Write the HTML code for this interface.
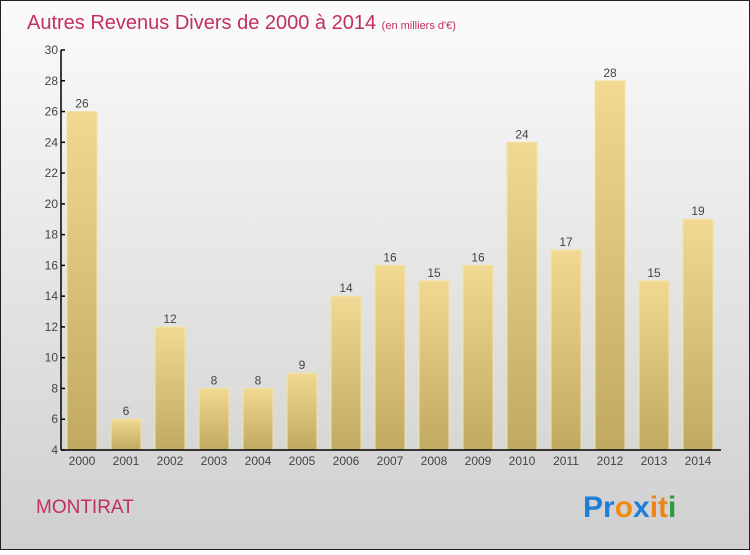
<!DOCTYPE html>
<html><head><meta charset="utf-8"><style>
html,body{margin:0;padding:0}
body{width:750px;height:550px;overflow:hidden;font-family:"Liberation Sans",sans-serif}
</style></head><body>
<svg id="chart" width="750" height="550" xmlns="http://www.w3.org/2000/svg">
<defs>
<linearGradient id="bg" x1="0" y1="0" x2="0" y2="1"><stop offset="0" stop-color="#fbfbfb"/><stop offset="1" stop-color="#cfcfcf"/></linearGradient>
<linearGradient id="bar" x1="0" y1="0" x2="0" y2="1"><stop offset="0" stop-color="#f2d993"/><stop offset="1" stop-color="#c0a963"/></linearGradient>
</defs>
<rect x="0.5" y="0.5" width="749" height="549" fill="url(#bg)" stroke="#222"/>
<text x="27" y="29" font-size="20" fill="#c0305f">Autres Revenus Divers de 2000 à 2014 <tspan font-size="11">(en milliers d'€)</tspan></text>
<g id="bars"></g>
<g id="axes"></g>
<text x="36" y="513" font-size="19" fill="#c0305f">MONTIRAT</text>
<text x="583" y="517" font-size="30" font-weight="bold"><tspan fill="#1e7fd8">Pr</tspan><tspan fill="#f08a10">o</tspan><tspan fill="#1e7fd8">x</tspan><tspan fill="#e8861a">it</tspan><tspan fill="#2a9a3a">i</tspan></text>
</svg>
<script>
const categories=["2000","2001","2002","2003","2004","2005","2006","2007","2008","2009","2010","2011","2012","2013","2014"];
const values=[26,6,12,8,8,9,14,16,15,16,24,17,28,15,19];
const yTicks=[4,6,8,10,12,14,16,18,20,22,24,26,28,30];
const NS="http://www.w3.org/2000/svg";
const y0=450,y1=50,vmin=4,vmax=30,xLeft=61,step=44,bw=30,firstCenter=82;
const yScale=v=>y0-(v-vmin)/(vmax-vmin)*(y0-y1);
const xScale=i=>firstCenter+i*step;
function mk(t,a){const e=document.createElementNS(NS,t);for(const k in a)e.setAttribute(k,a[k]);return e;}
const bars=document.getElementById('bars'),axes=document.getElementById('axes');
values.forEach((v,i)=>{
 const r=mk('rect',{x:xScale(i)-bw/2,y:yScale(v),width:bw,height:y0-yScale(v),fill:'url(#bar)',stroke:'#f3e3a6','stroke-width':1});
 
 
 bars.appendChild(r);
 const t=mk('text',{x:xScale(i),y:yScale(v)-4,'text-anchor':'middle','font-size':12,fill:'#444'});
 t.textContent=v;
 
 
 bars.appendChild(t);
 const c=mk('text',{x:xScale(i),y:y0+15,'text-anchor':'middle','font-size':12,fill:'#444'});
 c.textContent=categories[i];
 
 
 axes.appendChild(c);
});
const ya=mk('line',{x1:xLeft,y1:y1,x2:xLeft,y2:y0,stroke:'#000','stroke-width':1.5});


axes.appendChild(ya);
const xa=mk('line',{x1:xLeft,y1:y0,x2:721,y2:y0,stroke:'#000','stroke-width':1.5});


axes.appendChild(xa);
yTicks.forEach(v=>{
 axes.appendChild(mk('line',{x1:xLeft,y1:yScale(v),x2:xLeft+4,y2:yScale(v),stroke:'#000','stroke-width':1.5}));
 const t=mk('text',{x:xLeft-3,y:yScale(v)+4,'text-anchor':'end','font-size':12,fill:'#444'});
 t.textContent=v;
 
 
 axes.appendChild(t);
});
</script>
</body></html>
